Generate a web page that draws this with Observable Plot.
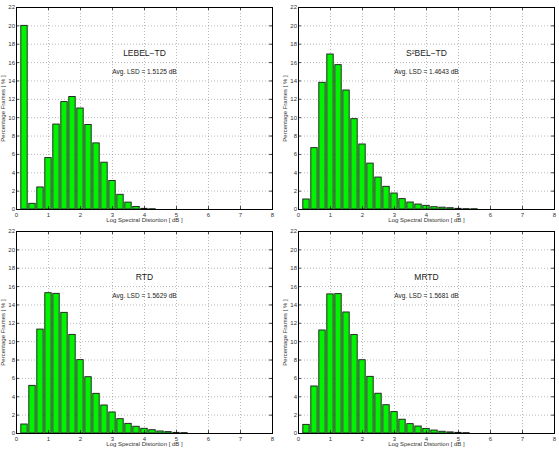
<!DOCTYPE html>
<html>
<head>
<meta charset="utf-8">
<script src="https://cdn.jsdelivr.net/npm/d3@7"></script>
<script src="https://cdn.jsdelivr.net/npm/@observablehq/plot@0.6"></script>
<style>
  body { margin: 0; background: #fff; }
  #fig { position: relative; width: 559px; height: 449px; font-family: "Liberation Sans", Arial, sans-serif; }
  #fig svg { position: absolute; overflow: visible; }
</style>
</head>
<body>
<div id="fig"></div>
<script>
// Histogram bin centres of the log spectral distortion (dB)
const binCenters = [0.25, 0.5, 0.75, 1.0, 1.25, 1.5, 1.75, 2.0, 2.25, 2.5, 2.75,
                    3.0, 3.25, 3.5, 3.75, 4.0, 4.25, 4.5, 4.75, 5.0, 5.25, 5.5];

// Percentage of frames in each bin, one array per method
const lebelTD = [20.0, 0.62, 2.4, 5.6, 9.25, 11.7, 12.25, 11.0, 9.2, 7.2, 5.1,
                 3.1, 1.6, 0.75, 0.28, 0.07, 0.03];
const s2belTD = [1.09, 6.68, 13.8, 16.88, 15.72, 12.96, 9.84, 7.08, 5.0, 3.48, 2.47,
                 1.74, 1.13, 0.76, 0.54, 0.4, 0.25, 0.2, 0.14, 0.07, 0.04, 0.03];
const rtd     = [0.98, 5.19, 11.32, 15.28, 15.21, 13.14, 10.74, 7.99, 6.13, 4.32, 3.05,
                 2.29, 1.56, 1.05, 0.73, 0.51, 0.36, 0.22, 0.15, 0.07, 0.04];
const mrtd    = [0.94, 5.12, 11.22, 15.15, 15.18, 13.18, 10.72, 7.98, 6.17, 4.33, 3.08,
                 2.33, 1.5, 1.02, 0.76, 0.5, 0.32, 0.19, 0.12, 0.07, 0.04];

const methodNames = ["LEBEL\u2212TD", "S\u00b2BEL\u2212TD", "RTD", "MRTD"];
const avgLSD = ["1.5125", "1.4643", "1.5629", "1.5681"];

const xTicks = [0, 1, 2, 3, 4, 5, 6, 7, 8];
const yTicks = [0, 2, 4, 6, 8, 10, 12, 14, 16, 18, 20, 22];
const xLabel = "Log Spectral Distortion [ dB ]";
const yLabel = "Percentage Frames [ % ]";

const fig = document.getElementById("fig");
const font = "\"Liberation Sans\", Arial, sans-serif";

function panel(values, name, avg, left, top, width) {
  const rows = values.map((v, i) => ({x: binCenters[i], v}));
  const plotW = 256, plotH = 202;
  const chart = Plot.plot({
    width,
    height: 225,
    marginLeft: 16,
    marginRight: width - 16 - plotW,
    marginTop: 7,
    marginBottom: 16,
    x: {domain: [0, 8], label: null},
    y: {domain: [0, 22], label: null},
    style: {fontFamily: font, fontSize: "6px", color: "#222", background: "transparent", overflow: "visible"},
    marks: [
      // dotted grid
      Plot.gridX(xTicks.slice(1, -1), {stroke: "#8a8a8a", strokeOpacity: 0.85, strokeWidth: 0.7, strokeDasharray: "1,2"}),
      Plot.gridY(yTicks.slice(1, -1), {stroke: "#8a8a8a", strokeOpacity: 0.85, strokeWidth: 0.7, strokeDasharray: "1,2"}),
      // histogram bars (80% of the bin width)
      Plot.rectY(rows, {x1: d => d.x - 0.1, x2: d => d.x + 0.1, y: "v",
                        fill: "#00f400", stroke: "#1a1a1a", strokeWidth: 0.9}),
      // tick labels
      Plot.axisX(xTicks, {tickSize: 0, tickPadding: 3, fontSize: 6, fill: "#333"}),
      Plot.axisY(yTicks, {tickSize: 0, tickPadding: 1.5, fontSize: 6, fill: "#333"}),
      // inward ticks on all four sides
      Plot.ruleX(xTicks, {x: d => d, insetTop: plotH - 3, stroke: "#000", strokeWidth: 0.7}),
      Plot.ruleX(xTicks, {x: d => d, insetBottom: plotH - 3, stroke: "#000", strokeWidth: 0.7}),
      Plot.ruleY(yTicks, {y: d => d, insetRight: plotW - 3, stroke: "#000", strokeWidth: 0.7}),
      Plot.ruleY(yTicks, {y: d => d, insetLeft: plotW - 3, stroke: "#000", strokeWidth: 0.7}),
      Plot.frame({stroke: "#000", strokeWidth: 1}),
      // axis titles
      Plot.text([xLabel], {frameAnchor: "bottom", dy: 12, text: d => d, fontSize: 6, fill: "#333"}),
      Plot.text([yLabel], {frameAnchor: "left", textAnchor: "middle", dx: -13.5, rotate: -90,
                           text: d => d, fontSize: 6, fill: "#333"}),
      // method name and average distortion
      Plot.text([name], {x: 4, y: 17, text: d => d, fontSize: 8.5, fill: "#222"}),
      Plot.text([`Avg. LSD = ${avg} dB`], {x: 4, y: 15, text: d => d, fontSize: 6.5, fill: "#222"})
    ]
  });
  chart.style.left = left + "px";
  chart.style.top = top + "px";
  fig.appendChild(chart);
}

panel(lebelTD, methodNames[0], avgLSD[0], 0, 0, 280);
panel(s2belTD, methodNames[1], avgLSD[1], 282, 0, 277);
panel(rtd, methodNames[2], avgLSD[2], 0, 224, 280);
panel(mrtd, methodNames[3], avgLSD[3], 282, 224, 277);
</script>
</body>
</html>
